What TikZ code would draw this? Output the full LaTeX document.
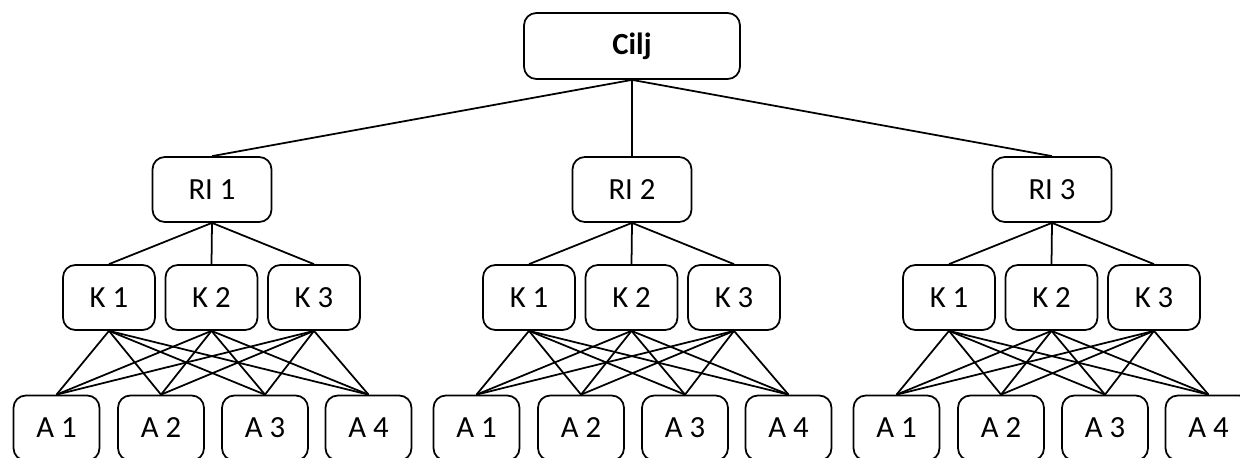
\documentclass[tikz,border=0pt]{standalone}
\usepackage{fontspec}
\setmainfont{Carlito}
\begin{document}
\begin{tikzpicture}[x=0.02cm,y=-0.02cm,
  box/.style={draw=black,line width=1pt,rounded corners=7pt,fill=white,inner sep=0pt,
    font=\fontsize{17.5}{20}\selectfont,anchor=center},
  goalbox/.style={box,minimum width=4.32cm,minimum height=1.32cm,font=\fontsize{17.5}{20}\selectfont\bfseries},
  ribox/.style={box,minimum width=2.38cm,minimum height=1.3cm},
  kbox/.style={box,minimum width=1.84cm,minimum height=1.3cm},
  abox/.style={box,minimum width=1.72cm,minimum height=1.3cm},
  link/.style={line width=1pt,black}]
\useasboundingbox (0,0) rectangle (1240,457);
\clip (0,0) rectangle (1240,457);
\node[goalbox] (C) at (632,46) {Cilj};
\foreach \g/\off in {1/0,2/420,3/840}{
  \node[ribox] (R\g) at ({212+\off},189.5) {RI \g};
  \draw[link] (C.south) -- (R\g.north);
  \foreach \k/\kx in {1/109,2/211.5,3/314}{
    \node[kbox] (K\g\k) at ({\kx+\off},297.5) {K \k};
    \draw[link] (R\g.south) -- (K\g\k.north);
  }
  \foreach \a/\ax in {1/56.5,2/161,3/265,4/368.5}{
    \node[abox] (A\g\a) at ({\ax+\off},428) {A \a};
    \foreach \k in {1,2,3}{
      \draw[link] (K\g\k.south) -- (A\g\a.north);
    }
  }
}
\end{tikzpicture}
\end{document}
